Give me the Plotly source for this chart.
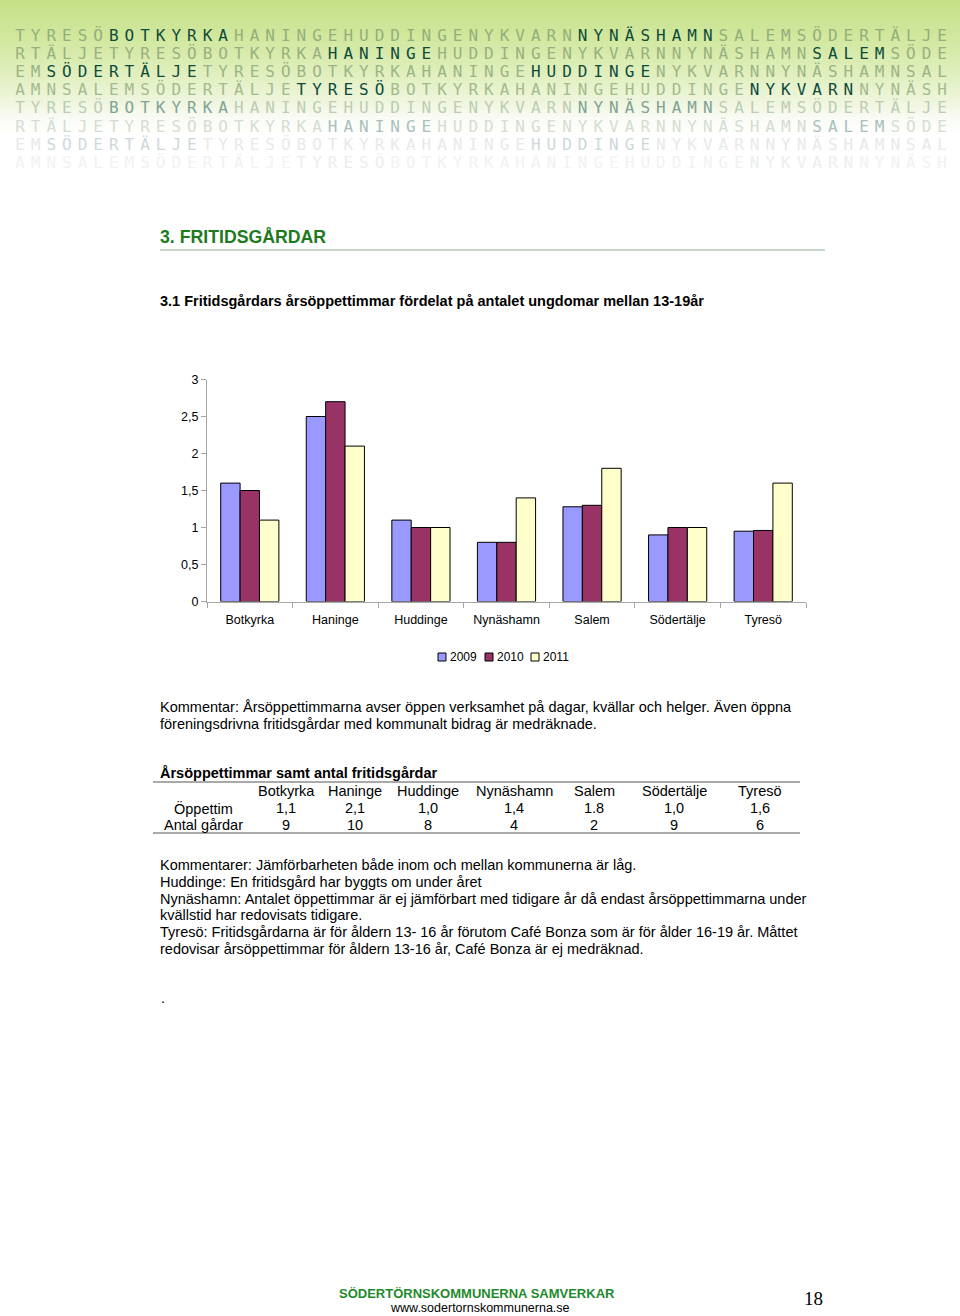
import plotly.graph_objects as go

# ---------------- data ----------------
categories = ["Botkyrka", "Haninge", "Huddinge", "Nynäshamn", "Salem", "Södertälje", "Tyresö"]
v2009 = [1.6, 2.5, 1.1, 0.8, 1.28, 0.9, 0.95]
v2010 = [1.5, 2.7, 1.0, 0.8, 1.3, 1.0, 0.96]
v2011 = [1.1, 2.1, 1.0, 1.4, 1.8, 1.0, 1.6]
series_names = ["2009", "2010", "2011"]
y_tick_vals = [0, 0.5, 1, 1.5, 2, 2.5, 3]
y_tick_text = ["0", "0,5", "1", "1,5", "2", "2,5", "3"]

table_cols = ["Botkyrka", "Haninge", "Huddinge", "Nynäshamn", "Salem", "Södertälje", "Tyresö"]
table_oppettim = ["1,1", "2,1", "1,0", "1,4", "1.8", "1,0", "1,6"]
table_antal = ["9", "10", "8", "4", "2", "9", "6"]

banner_rows = [
    "TYRESÖBOTKYRKAHANINGEHUDDINGENYKVARNNYNÄSHAMNSALEMSÖDERTÄLJE",
    "RTÄLJETYRESÖBOTKYRKAHANINGEHUDDINGENYKVARNNYNÄSHAMNSALEMSÖDE",
    "EMSÖDERTÄLJETYRESÖBOTKYRKAHANINGEHUDDINGENYKVARNNYNÄSHAMNSAL",
    "AMNSALEMSÖDERTÄLJETYRESÖBOTKYRKAHANINGEHUDDINGENYKVARNNYNÄSH",
]
banner_highlight = [[(6, 14), (36, 45)], [(20, 27), (51, 56)], [(2, 12), (33, 41)], [(18, 24), (47, 54)]]

# ---------------- styling ----------------
W, H = 960, 1316
FONT = "Liberation Sans, Arial, sans-serif"
colors = ["#9999FF", "#993366", "#FFFFCC"]

fig = go.Figure()

for name, vals, col in zip(series_names, [v2009, v2010, v2011], colors):
    fig.add_trace(go.Bar(
        x=categories, y=vals, name=name,
        marker=dict(color=col, line=dict(color="#000000", width=1)),
        xaxis="x", yaxis="y", hoverinfo="x+y", showlegend=False,
    ))

# ---------------- banner ----------------
row_colors = [
    ("#94AE7B", "#0E4B3B"),
    ("#98B07F", "#0E4B3B"),
    ("#9CB485", "#0E4B3B"),
    ("#A4BB8D", "#0E4B3B"),
    ("#BCCDB3", "#7FA394"),
    ("#D4DDD1", "#A9C0BC"),
    ("#E7EAE7", "#CED8DB"),
    ("#F1F2F1", "#EBEEF0"),
]
for r in range(8):
    s = banner_rows[r % 4]
    hl = banner_highlight[r % 4]
    normal, strong = row_colors[r]
    xs, ys, cs, ts = [], [], [], []
    for i, ch in enumerate(s):
        xs.append(20 + i * 15.63)
        ys.append(37 + r * 18.1)
        ts.append(ch)
        cs.append(strong if any(a <= i < b for a, b in hl) else normal)
    fig.add_trace(go.Scatter(
        x=xs, y=ys, text=ts, mode="text", xaxis="x2", yaxis="y2",
        textfont=dict(family="DejaVu Sans Mono, monospace", size=16, color=cs),
        showlegend=False, hoverinfo="skip",
    ))

# gradient background of banner
stops = [(0, (196, 224, 134)), (40, (210, 232, 160)), (75, (225, 239, 190)),
         (100, (238, 245, 220)), (120, (250, 252, 246)), (135, (255, 255, 255))]
shapes = []
def interp(y):
    for (y0, c0), (y1, c1) in zip(stops[:-1], stops[1:]):
        if y0 <= y <= y1:
            t = (y - y0) / (y1 - y0)
            return tuple(round(c0[k] + (c1[k] - c0[k]) * t) for k in range(3))
    return (255, 255, 255)
for y in range(0, 136, 3):
    c = interp(y + 1.5)
    shapes.append(dict(type="rect", xref="paper", yref="y2", x0=0, x1=1, y0=y, y1=y + 3,
                       fillcolor="rgb(%d,%d,%d)" % c, line=dict(width=0), layer="below"))

# ---------------- text helpers ----------------
annotations = []
def text(x, y, s, size=14.5, color="#000000", bold=False, anchor="left", family=FONT):
    annotations.append(dict(
        x=x, y=y, xref="x2", yref="y2", text=("<b>%s</b>" % s) if bold else s,
        showarrow=False, xanchor=anchor, yanchor="middle",
        font=dict(family=family, size=size, color=color),
    ))

def hline(x0, x1, y, color="#555555", width=1):
    shapes.append(dict(type="line", xref="x2", yref="y2", x0=x0, x1=x1, y0=y, y1=y,
                       line=dict(color=color, width=width)))

text(158, 237, "3. FRITIDSGÅRDAR", size=17.7, color="#1E7A1E", bold=True)
hline(160, 825, 250, color="#8FAF99", width=1)
text(158, 301, "3.1 Fritidsgårdars årsöppettimmar fördelat på antalet ungdomar mellan 13-19år", bold=True)

text(158, 707, "Kommentar: Årsöppettimmarna avser öppen verksamhet på dagar, kvällar och helger. Även öppna")
text(158, 724, "föreningsdrivna fritidsgårdar med kommunalt bidrag är medräknade.")

# legend (manual, compact like the original)
legend_x = [442, 489, 535]
for lx, name, col in zip(legend_x, series_names, colors):
    shapes.append(dict(type="rect", xref="x2", yref="y2", x0=lx - 4, x1=lx + 4, y0=653, y1=661,
                       fillcolor=col, line=dict(color="#000000", width=1)))
    text(lx + 6, 657, name, size=12)

# table
text(158, 773, "Årsöppettimmar samt antal fritidsgårdar", bold=True)
hline(153, 800, 782)
col_x = [286, 355, 428, 514, 594, 674, 760]
for cx, c, o, a in zip(col_x, table_cols, table_oppettim, table_antal):
    text(cx, 791, c, anchor="center")
    text(cx, 808, o, anchor="center")
    text(cx, 825, a, anchor="center")
text(203, 808, "Öppettim", anchor="center")
text(203, 825, "Antal gårdar", anchor="center")
hline(153, 800, 833)

comments = [
    "Kommentarer: Jämförbarheten både inom och mellan kommunerna är låg.",
    "Huddinge: En fritidsgård har byggts om under året",
    "Nynäshamn: Antalet öppettimmar är ej jämförbart med tidigare år då endast årsöppettimmarna under",
    "kvällstid har redovisats tidigare.",
    "Tyresö: Fritidsgårdarna är för åldern 13- 16 år förutom Café Bonza som är för ålder 16-19 år. Måttet",
    "redovisar årsöppettimmar för åldern 13-16 år, Café Bonza är ej medräknad.",
]
for i, line in enumerate(comments):
    text(158, 865 + i * 16.8, line)
text(159, 998, ".")

# footer
text(477, 1293, "SÖDERTÖRNSKOMMUNERNA SAMVERKAR", size=13, color="#1E8A2E", bold=True, anchor="center")
text(480, 1308, "www.sodertornskommunerna.se", size=12.5, anchor="center")
text(813, 1298, "18", size=19, anchor="center", family="Liberation Serif, Times New Roman, serif")

fig.update_layout(
    width=W, height=H,
    margin=dict(l=0, r=0, t=0, b=0, pad=0, autoexpand=False),
    paper_bgcolor="#FFFFFF", plot_bgcolor="rgba(0,0,0,0)",
    font=dict(family=FONT, size=12, color="#000000"),
    barmode="group", bargap=0.32, bargroupgap=0,
    showlegend=False,
    xaxis=dict(domain=[207 / W, 806 / W], anchor="y", showline=True, linecolor="#A6A6A6",
               ticks="outside", tickson="boundaries", ticklen=5, tickcolor="#A6A6A6",
               showgrid=False, tickfont=dict(size=12.5), ticklabelstandoff=6, automargin=False),
    yaxis=dict(domain=[1 - 601.5 / H, 1 - 379.5 / H], anchor="x", range=[0, 3],
               tickvals=y_tick_vals, ticktext=y_tick_text, showline=True, linecolor="#A6A6A6",
               ticks="outside", ticklen=5, tickcolor="#A6A6A6", showgrid=False, zeroline=False,
               tickfont=dict(size=12.5), automargin=False),
    xaxis2=dict(domain=[0, 1], anchor="y2", range=[0, W], visible=False, fixedrange=True, automargin=False),
    yaxis2=dict(domain=[0, 1], anchor="x2", range=[H, 0], visible=False, fixedrange=True, automargin=False),
    shapes=shapes, annotations=annotations,
)

fig.write_html("out.html")
